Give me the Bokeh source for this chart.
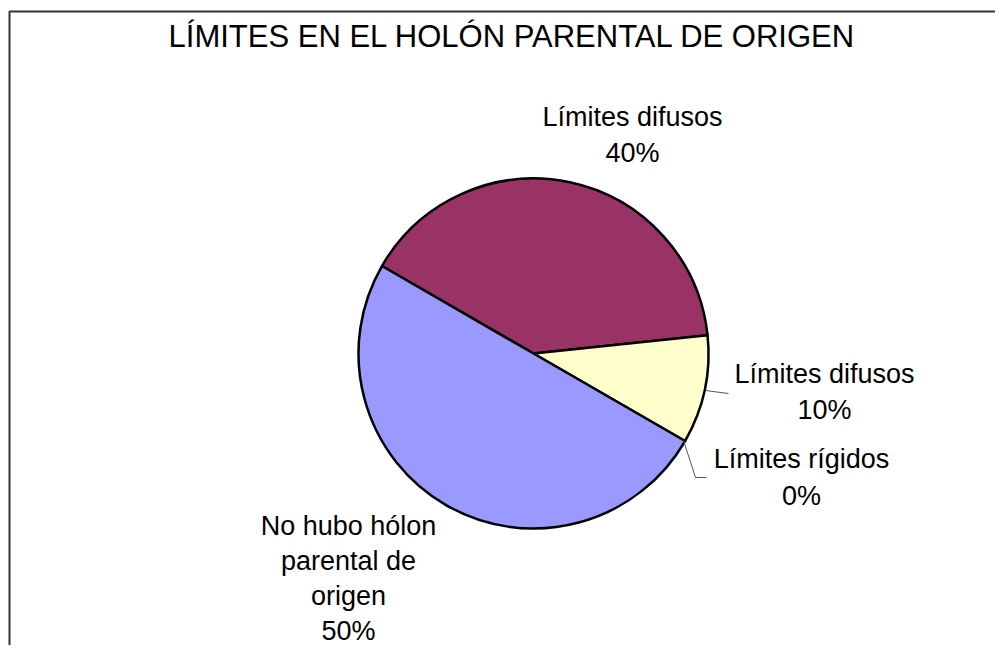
from bokeh.plotting import figure
from bokeh.models import Range1d
from bokeh.core.properties import value
from bokeh.embed import file_html
from bokeh.resources import INLINE

# ---- data ----
title_text = "LÍMITES EN EL HOLÓN PARENTAL DE ORIGEN"
categories = ["Límites difusos", "Límites difusos", "Límites rígidos", "No hubo hólon\nparental de\norigen"]
values = [40, 10, 0, 50]
colors = ["#993366", "#FFFFCC", "#CCFFFF", "#9999FF"]

# ---- layout (pixels of the picture) ----
W, H = 995, 645


def px(x):
    return x


def py(y):
    return H - y


p = figure(width=W, height=H, output_backend="svg", toolbar_location=None,
           x_range=Range1d(0, W), y_range=Range1d(0, H), min_border=0)
p.axis.visible = False
p.grid.visible = False
p.outline_line_color = None
p.background_fill_color = "white"
p.border_fill_color = "white"

# chart frame (top & left visible)
p.line([px(9), px(9), px(1100)], [py(700), py(11), py(11)], line_color="#333333", line_width=2)

# title (y = vertical middle of capitals)
p.text(x=[px(512)], y=[py(36)], text=[title_text], text_align="center",
       text_baseline="middle", text_font=value("Liberation Sans"),
       text_font_size="31px", text_color="black")

# pie
cx, cy, r = px(533), py(353), 175
start = 150.0
total = float(sum(values))
ws, we, wc = [], [], []
acc = 0.0
for v, c in zip(values, colors):
    a0 = start - acc / total * 360.0
    a1 = a0 - v / total * 360.0
    acc += v
    if v > 0:
        ws.append(a0)
        we.append(a1)
        wc.append(c)
p.wedge(x=cx, y=cy, radius=r, start_angle=ws, end_angle=we, start_angle_units="deg",
        end_angle_units="deg", direction="clock", fill_color=wc,
        line_color="black", line_width=2.5)

# leader lines
p.multi_line(xs=[[px(705), px(728)], [px(683), px(695), px(706)]],
             ys=[[py(390), py(393)], [py(440), py(477), py(477)]],
             line_color="#555555", line_width=1)

# data labels (center x, middle of first line, line step) per slice
label_pos = [(632, 116.5, 36), (824, 373.5, 36), (801, 458.5, 37), (348, 525, 35)]
lx, ly, lt = [], [], []
for cat, v, (x0, y0, step) in zip(categories, values, label_pos):
    lines = cat.split("\n") + [f"{v}%"]
    for i, t in enumerate(lines):
        lx.append(px(x0))
        ly.append(py(y0 + i * step))
        lt.append(t)
p.text(x=lx, y=ly, text=lt, text_align="center", text_baseline="middle",
       text_font=value("Liberation Sans"), text_font_size="27px", text_color="black")

open("out.html", "w").write(file_html(p, INLINE))
